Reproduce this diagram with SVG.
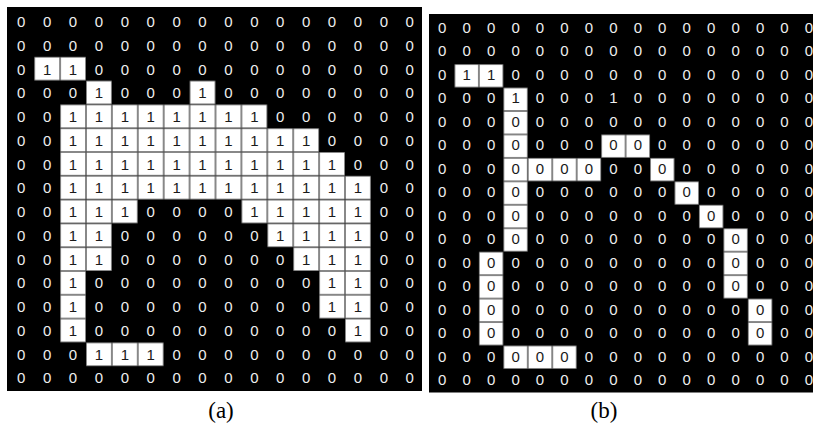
<svg xmlns="http://www.w3.org/2000/svg" width="813" height="423" viewBox="0 0 813 423">
<style>
.bg{fill:#000}
.d{font-family:"Liberation Sans",Arial,sans-serif;font-size:15px;fill:#eeeeee;text-anchor:middle}
.k{font-family:"Liberation Sans",Arial,sans-serif;font-size:15px;fill:#1a1a1a;text-anchor:middle}
.lab{font-family:"Liberation Serif","Times New Roman",serif;font-size:23px;fill:#000;text-anchor:middle}
</style>
<defs>
<pattern id="pa" patternUnits="userSpaceOnUse" x="8.3" y="9.2" width="25.9" height="23.8">
<rect x="0" y="0" width="25.9" height="23.8" fill="#fff" stroke="#555" stroke-width="1.4"/>
</pattern>
<pattern id="pb" patternUnits="userSpaceOnUse" x="430" y="17.2" width="24.45" height="23.45">
<rect x="0" y="0" width="24.45" height="23.45" fill="#fff" stroke="#555" stroke-width="1.4"/>
</pattern>
</defs>
<rect width="813" height="423" fill="#fff"/>

<g id="panel-a">
<rect class="bg" x="7" y="7" width="415" height="384"/>
<g id="a-cells" fill="url(#pa)">
<rect x="34.2" y="56.8" width="51.8" height="23.8"/>
<rect x="86" y="80.6" width="25.9" height="23.8"/>
<rect x="189.6" y="80.6" width="25.9" height="23.8"/>
<rect x="60.1" y="104.4" width="207.2" height="23.8"/>
<rect x="60.1" y="128.2" width="259" height="23.8"/>
<rect x="60.1" y="152" width="284.9" height="23.8"/>
<rect x="60.1" y="175.8" width="310.8" height="23.8"/>
<rect x="60.1" y="199.6" width="77.7" height="23.8"/>
<rect x="241.4" y="199.6" width="129.5" height="23.8"/>
<rect x="60.1" y="223.4" width="51.8" height="23.8"/>
<rect x="267.3" y="223.4" width="103.6" height="23.8"/>
<rect x="60.1" y="247.2" width="51.8" height="23.8"/>
<rect x="293.2" y="247.2" width="77.7" height="23.8"/>
<rect x="60.1" y="271" width="25.9" height="71.4"/>
<rect x="319.1" y="271" width="51.8" height="47.6"/>
<rect x="345" y="318.6" width="25.9" height="23.8"/>
<rect x="86" y="342.4" width="77.7" height="23.8"/>
</g>
<g id="a-text">
<text class="d" y="27" x="21.2 47.1 73 98.9 124.8 150.7 176.6 202.5 228.4 254.3 280.2 306.1 332 357.9 383.8 409.7">0000000000000000</text>
<text class="d" y="50.75" x="21.2 47.1 73 98.9 124.8 150.7 176.6 202.5 228.4 254.3 280.2 306.1 332 357.9 383.8 409.7">0000000000000000</text>

<text class="d" y="74.5" x="21.2">0</text>
<text class="k" y="74.5" x="47.1 73">11</text>
<text class="d" y="74.5" x="98.9 124.8 150.7 176.6 202.5 228.4 254.3 280.2 306.1 332 357.9 383.8 409.7">0000000000000</text>

<text class="d" y="98.25" x="21.2 47.1 73">000</text>
<text class="k" y="98.25" x="98.9">1</text>
<text class="d" y="98.25" x="124.8 150.7 176.6">000</text>
<text class="k" y="98.25" x="202.5">1</text>
<text class="d" y="98.25" x="228.4 254.3 280.2 306.1 332 357.9 383.8 409.7">00000000</text>

<text class="d" y="122" x="21.2 47.1">00</text>
<text class="k" y="122" x="73 98.9 124.8 150.7 176.6 202.5 228.4 254.3">11111111</text>
<text class="d" y="122" x="280.2 306.1 332 357.9 383.8 409.7">000000</text>

<text class="d" y="145.75" x="21.2 47.1">00</text>
<text class="k" y="145.75" x="73 98.9 124.8 150.7 176.6 202.5 228.4 254.3 280.2 306.1">1111111111</text>
<text class="d" y="145.75" x="332 357.9 383.8 409.7">0000</text>

<text class="d" y="169.5" x="21.2 47.1">00</text>
<text class="k" y="169.5" x="73 98.9 124.8 150.7 176.6 202.5 228.4 254.3 280.2 306.1 332">11111111111</text>
<text class="d" y="169.5" x="357.9 383.8 409.7">000</text>

<text class="d" y="193.25" x="21.2 47.1">00</text>
<text class="k" y="193.25" x="73 98.9 124.8 150.7 176.6 202.5 228.4 254.3 280.2 306.1 332 357.9">111111111111</text>
<text class="d" y="193.25" x="383.8 409.7">00</text>

<text class="d" y="217" x="21.2 47.1">00</text>
<text class="k" y="217" x="73 98.9 124.8">111</text>
<text class="d" y="217" x="150.7 176.6 202.5 228.4">0000</text>
<text class="k" y="217" x="254.3 280.2 306.1 332 357.9">11111</text>
<text class="d" y="217" x="383.8 409.7">00</text>

<text class="d" y="240.75" x="21.2 47.1">00</text>
<text class="k" y="240.75" x="73 98.9">11</text>
<text class="d" y="240.75" x="124.8 150.7 176.6 202.5 228.4 254.3">000000</text>
<text class="k" y="240.75" x="280.2 306.1 332 357.9">1111</text>
<text class="d" y="240.75" x="383.8 409.7">00</text>

<text class="d" y="264.5" x="21.2 47.1">00</text>
<text class="k" y="264.5" x="73 98.9">11</text>
<text class="d" y="264.5" x="124.8 150.7 176.6 202.5 228.4 254.3 280.2">0000000</text>
<text class="k" y="264.5" x="306.1 332 357.9">111</text>
<text class="d" y="264.5" x="383.8 409.7">00</text>

<text class="d" y="288.25" x="21.2 47.1">00</text>
<text class="k" y="288.25" x="73">1</text>
<text class="d" y="288.25" x="98.9 124.8 150.7 176.6 202.5 228.4 254.3 280.2 306.1">000000000</text>
<text class="k" y="288.25" x="332 357.9">11</text>
<text class="d" y="288.25" x="383.8 409.7">00</text>

<text class="d" y="312" x="21.2 47.1">00</text>
<text class="k" y="312" x="73">1</text>
<text class="d" y="312" x="98.9 124.8 150.7 176.6 202.5 228.4 254.3 280.2 306.1">000000000</text>
<text class="k" y="312" x="332 357.9">11</text>
<text class="d" y="312" x="383.8 409.7">00</text>

<text class="d" y="335.75" x="21.2 47.1">00</text>
<text class="k" y="335.75" x="73">1</text>
<text class="d" y="335.75" x="98.9 124.8 150.7 176.6 202.5 228.4 254.3 280.2 306.1 332">0000000000</text>
<text class="k" y="335.75" x="357.9">1</text>
<text class="d" y="335.75" x="383.8 409.7">00</text>

<text class="d" y="359.5" x="21.2 47.1 73">000</text>
<text class="k" y="359.5" x="98.9 124.8 150.7">111</text>
<text class="d" y="359.5" x="176.6 202.5 228.4 254.3 280.2 306.1 332 357.9 383.8 409.7">0000000000</text>

<text class="d" y="383.25" x="21.2 47.1 73 98.9 124.8 150.7 176.6 202.5 228.4 254.3 280.2 306.1 332 357.9 383.8 409.7">0000000000000000</text>
</g>
<text class="lab" x="221" y="418">(a)</text>
</g>

<g id="panel-b">
<rect class="bg" x="429" y="14" width="384" height="378.5"/>
<g id="b-cells" fill="url(#pb)">
<rect x="454.45" y="64.1" width="48.9" height="23.45"/>
<rect x="503.35" y="87.55" width="24.45" height="164.15"/>
<rect x="601.15" y="134.45" width="48.9" height="23.45"/>
<rect x="527.8" y="157.9" width="73.35" height="23.45"/>
<rect x="650.05" y="157.9" width="24.45" height="23.45"/>
<rect x="674.5" y="181.35" width="24.45" height="23.45"/>
<rect x="698.95" y="204.8" width="24.45" height="23.45"/>
<rect x="723.4" y="228.25" width="24.45" height="70.35"/>
<rect x="478.9" y="251.7" width="24.45" height="93.8"/>
<rect x="747.85" y="298.6" width="24.45" height="46.9"/>
<rect x="503.35" y="345.5" width="73.35" height="23.45"/>
</g>
<g id="b-text">
<text class="d" y="32.5" x="442.2 466.65 491.1 515.55 540 564.45 588.9 613.35 637.8 662.25 686.7 711.15 735.6 760.05 784.5 808.95">0000000000000000</text>
<text class="d" y="56" x="442.2 466.65 491.1 515.55 540 564.45 588.9 613.35 637.8 662.25 686.7 711.15 735.6 760.05 784.5 808.95">0000000000000000</text>

<text class="d" y="79.5" x="442.2">0</text>
<text class="k" y="79.5" x="466.65 491.1">11</text>
<text class="d" y="79.5" x="515.55 540 564.45 588.9 613.35 637.8 662.25 686.7 711.15 735.6 760.05 784.5 808.95">0000000000000</text>

<text class="d" y="103" x="442.2 466.65 491.1">000</text>
<text class="k" y="103" x="515.55">1</text>
<text class="d" y="103" x="540 564.45 588.9 613.35 637.8 662.25 686.7 711.15 735.6 760.05 784.5 808.95">000100000000</text>

<text class="d" y="126.5" x="442.2 466.65 491.1">000</text>
<text class="k" y="126.5" x="515.55">0</text>
<text class="d" y="126.5" x="540 564.45 588.9 613.35 637.8 662.25 686.7 711.15 735.6 760.05 784.5 808.95">000000000000</text>

<text class="d" y="150" x="442.2 466.65 491.1">000</text>
<text class="k" y="150" x="515.55">0</text>
<text class="d" y="150" x="540 564.45 588.9">000</text>
<text class="k" y="150" x="613.35 637.8">00</text>
<text class="d" y="150" x="662.25 686.7 711.15 735.6 760.05 784.5 808.95">0000000</text>

<text class="d" y="173.5" x="442.2 466.65 491.1">000</text>
<text class="k" y="173.5" x="515.55 540 564.45 588.9">0000</text>
<text class="d" y="173.5" x="613.35 637.8">00</text>
<text class="k" y="173.5" x="662.25">0</text>
<text class="d" y="173.5" x="686.7 711.15 735.6 760.05 784.5 808.95">000000</text>

<text class="d" y="197" x="442.2 466.65 491.1">000</text>
<text class="k" y="197" x="515.55">0</text>
<text class="d" y="197" x="540 564.45 588.9 613.35 637.8 662.25">000000</text>
<text class="k" y="197" x="686.7">0</text>
<text class="d" y="197" x="711.15 735.6 760.05 784.5 808.95">00000</text>

<text class="d" y="220.5" x="442.2 466.65 491.1">000</text>
<text class="k" y="220.5" x="515.55">0</text>
<text class="d" y="220.5" x="540 564.45 588.9 613.35 637.8 662.25 686.7">0000000</text>
<text class="k" y="220.5" x="711.15">0</text>
<text class="d" y="220.5" x="735.6 760.05 784.5 808.95">0000</text>

<text class="d" y="244" x="442.2 466.65 491.1">000</text>
<text class="k" y="244" x="515.55">0</text>
<text class="d" y="244" x="540 564.45 588.9 613.35 637.8 662.25 686.7 711.15">00000000</text>
<text class="k" y="244" x="735.6">0</text>
<text class="d" y="244" x="760.05 784.5 808.95">000</text>

<text class="d" y="267.5" x="442.2 466.65">00</text>
<text class="k" y="267.5" x="491.1">0</text>
<text class="d" y="267.5" x="515.55 540 564.45 588.9 613.35 637.8 662.25 686.7 711.15">000000000</text>
<text class="k" y="267.5" x="735.6">0</text>
<text class="d" y="267.5" x="760.05 784.5 808.95">000</text>

<text class="d" y="291" x="442.2 466.65">00</text>
<text class="k" y="291" x="491.1">0</text>
<text class="d" y="291" x="515.55 540 564.45 588.9 613.35 637.8 662.25 686.7 711.15">000000000</text>
<text class="k" y="291" x="735.6">0</text>
<text class="d" y="291" x="760.05 784.5 808.95">000</text>

<text class="d" y="314.5" x="442.2 466.65">00</text>
<text class="k" y="314.5" x="491.1">0</text>
<text class="d" y="314.5" x="515.55 540 564.45 588.9 613.35 637.8 662.25 686.7 711.15 735.6">0000000000</text>
<text class="k" y="314.5" x="760.05">0</text>
<text class="d" y="314.5" x="784.5 808.95">00</text>

<text class="d" y="338" x="442.2 466.65">00</text>
<text class="k" y="338" x="491.1">0</text>
<text class="d" y="338" x="515.55 540 564.45 588.9 613.35 637.8 662.25 686.7 711.15 735.6">0000000000</text>
<text class="k" y="338" x="760.05">0</text>
<text class="d" y="338" x="784.5 808.95">00</text>

<text class="d" y="361.5" x="442.2 466.65 491.1">000</text>
<text class="k" y="361.5" x="515.55 540 564.45">000</text>
<text class="d" y="361.5" x="588.9 613.35 637.8 662.25 686.7 711.15 735.6 760.05 784.5 808.95">0000000000</text>

<text class="d" y="385" x="442.2 466.65 491.1 515.55 540 564.45 588.9 613.35 637.8 662.25 686.7 711.15 735.6 760.05 784.5 808.95">0000000000000000</text>
</g>
<text class="lab" x="604" y="418">(b)</text>
</g>
</svg>
